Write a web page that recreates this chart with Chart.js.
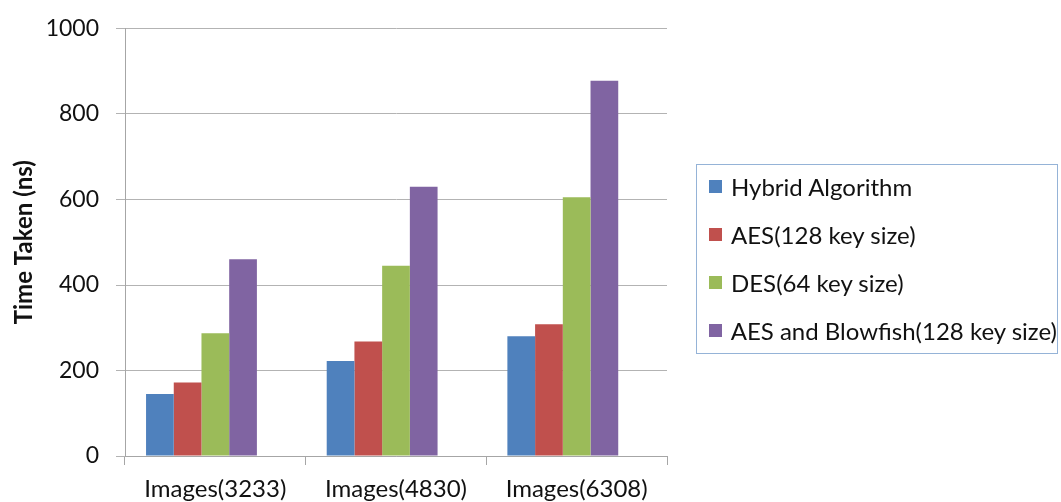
<!DOCTYPE html>
<html>
<head>
  <title>Time Taken</title>
  <script src="https://cdn.jsdelivr.net/npm/chart.js"></script>
  <style>
    body {
      margin: 0;
      background: #fff;
      font-family: Lato, "Open Sans", sans-serif;
    }
    .wrap {
      position: relative;
      width: 1061px;
      height: 502px;
    }
    .legend-box {
      position: absolute;
      left: 696px;
      top: 164px;
      width: 362px;
      height: 190px;
      box-sizing: border-box;
      border: 1px solid #95b3d7;
    }
    .legend-item {
      display: flex;
      align-items: center;
      height: 48px;
      padding-left: 12px;
      font-size: 24px;
      color: #111;
      white-space: nowrap;
    }
    .legend-item:first-child {
      margin-top: -3px;
    }
    .legend-item span {
      display: inline-block;
      width: 13px;
      height: 13px;
      margin-right: 9px;
    }
  </style>
</head>
<body>
  <div class="wrap">
    <canvas id="timeChart"></canvas>
    <div class="legend-box" id="legend"></div>
  </div>

  <script>
    const categories = ['Images(3233)', 'Images(4830)', 'Images(6308)'];
    const seriesNames = ['Hybrid Algorithm', 'AES(128 key size)', 'DES(64 key size)', 'AES and Blowfish(128 key size)'];
    const hybrid = [145, 222, 280];
    const aes = [172, 268, 308];
    const des = [287, 445, 605];
    const aesBlowfish = [460, 630, 878];
    const colors = ['#4f81bd', '#c0504d', '#9bbb59', '#8064a2'];
    const yTicks = [0, 200, 400, 600, 800, 1000];

    const values = [hybrid, aes, des, aesBlowfish];
    const datasets = values.map((v, i) => ({
      label: seriesNames[i],
      data: v,
      backgroundColor: colors[i],
      borderWidth: 0
    }));
    // empty slot, like the blank series in the original sheet
    datasets.push({ label: '', data: [null, null, null], backgroundColor: 'rgba(0,0,0,0)' });

    const legend = document.getElementById('legend');
    seriesNames.forEach((name, i) => {
      const row = document.createElement('div');
      row.className = 'legend-item';
      row.innerHTML = '<span style="background:' + colors[i] + '"></span>' + name;
      legend.appendChild(row);
    });

    const fontFamily = 'Lato, "Open Sans", sans-serif';
    const ctx = document.getElementById('timeChart').getContext('2d');
    new Chart(ctx, {
      type: 'bar',
      data: { labels: categories, datasets: datasets },
      options: {
        responsive: true,
        maintainAspectRatio: false,
        animation: false,
        layout: { padding: { left: 8, right: 394, top: 27, bottom: 0 } },
        datasets: { bar: { categoryPercentage: 0.767, barPercentage: 1.0 } },
        plugins: {
          legend: { display: false },
          tooltip: { enabled: false }
        },
        scales: {
          x: {
            offset: true,
            grid: {
              offset: true,
              drawOnChartArea: false,
              color: '#a6a6a6',
              tickLength: 9
            },
            border: { color: '#a6a6a6' },
            ticks: {
              padding: 10,
              color: '#111',
              font: { family: fontFamily, size: 24 }
            },
            afterFit: function(scale) { scale.height = 46; }
          },
          y: {
            min: 0,
            max: 1000,
            afterBuildTicks: function(scale) {
              scale.ticks = yTicks.map(v => ({ value: v }));
            },
            grid: { color: '#b3b3b3', tickLength: 9 },
            border: { color: '#a6a6a6' },
            ticks: {
              padding: 17,
              color: '#111',
              font: { family: fontFamily, size: 23, lineHeight: 1 },
              callback: function(value) { return String(value); }
            },
            title: {
              display: true,
              text: 'Time Taken (ns)',
              color: '#111',
              padding: { top: 2, bottom: 0 },
              font: { family: fontFamily, size: 24, weight: 'bold' }
            },
            afterFit: function(scale) { scale.width = 117; }
          }
        }
      }
    });
  </script>
</body>
</html>
